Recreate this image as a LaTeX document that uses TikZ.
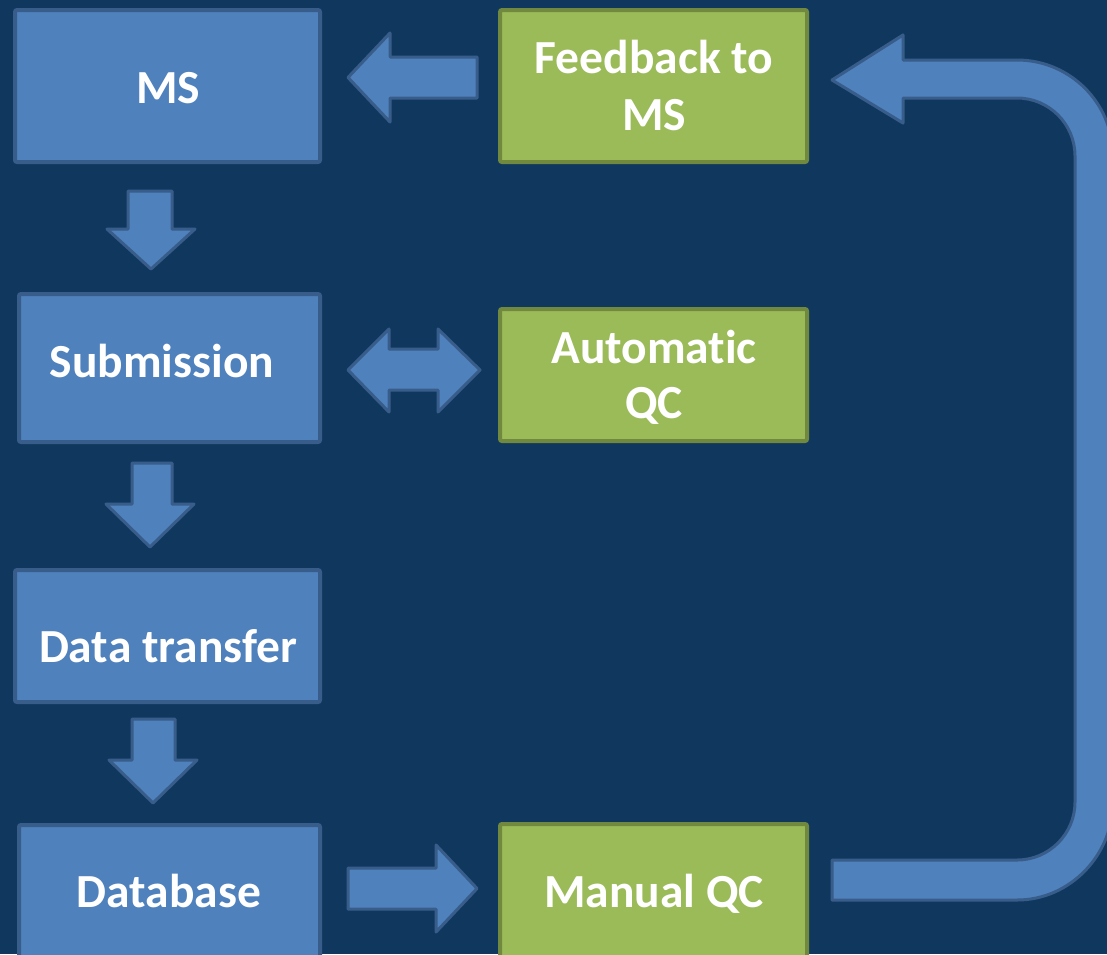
\documentclass[tikz,border=0pt]{standalone}
\usepackage{fontspec}
\setmainfont[Ligatures=NoCommon]{Carlito}
\definecolor{bgc}{HTML}{10385E}
\definecolor{bfill}{HTML}{4F81BD}
\definecolor{bline}{HTML}{385D8A}
\definecolor{gfill}{HTML}{9BBB59}
\definecolor{gline}{HTML}{71893F}
\begin{document}
\begin{tikzpicture}[x=1pt,y=-1pt,
  bluebox/.style={rectangle,fill=bfill,draw=bline,line width=4pt,rounded corners=2pt,inner sep=0pt},
  greenbox/.style={rectangle,fill=gfill,draw=gline,line width=4pt,rounded corners=2pt,inner sep=0pt},
  lbl/.style={text=white,font=\fontsize{47.5}{57}\selectfont\bfseries,inner sep=0pt,anchor=base},
  blockarrow/.style={fill=bfill,draw=bline,line width=3pt,line join=round}]
\useasboundingbox (0,0) rectangle (1107,954);
\clip (0,0) rectangle (1107,954);
\fill[bgc] (0,0) rectangle (1107,954);
% boxes
\node[bluebox,minimum width=305pt,minimum height=152pt] (ms) at (167.5,86) {};
\node[bluebox,minimum width=301pt,minimum height=148pt] (sub) at (169.5,368) {};
\node[bluebox,minimum width=305pt,minimum height=132pt] (dt) at (167.5,636) {};
\node[bluebox,minimum width=301pt,minimum height=146pt] (db) at (169.5,898) {};
\node[greenbox,minimum width=307pt,minimum height=152pt] (fb) at (653.5,86) {};
\node[greenbox,minimum width=307pt,minimum height=132pt] (aq) at (653.5,375) {};
\node[greenbox,minimum width=307pt,minimum height=146pt] (mq) at (653.5,897) {};
% labels
\node[lbl] (msl) at (168,103) {MS};
\node[lbl] (fbl1) at (654,73) {Feedback to};
\node[lbl] (fbl2) at (654,130) {MS};
\node[lbl] (subl) at (162,377) {Submission};
\node[lbl] (aql1) at (654,363) {Automatic};
\node[lbl] (aql2) at (654,418) {QC};
\node[lbl] (dtl) at (168,662) {Data transfer};
\node[lbl] (dbl) at (169,907) {Database};
\node[lbl] (mql) at (654,907) {Manual QC};
% feedback -> MS
\draw[blockarrow] (477,57) -- (390,57) -- (390,33) -- (348,77.5) -- (390,122) -- (390,98) -- (477,98) -- cycle;
% submission <-> automatic QC
\draw[blockarrow] (348,370) -- (389,329) -- (389,349) -- (438,349) -- (438,329) -- (480,370) -- (438,412) -- (438,390) -- (389,390) -- (389,412) -- cycle;
% database -> manual QC
\draw[blockarrow] (348,868) -- (436,868) -- (436,845) -- (477,888.5) -- (436,932) -- (436,909) -- (348,909) -- cycle;
% down arrows
\draw[blockarrow] (128,191) -- (172,191) -- (172,229) -- (195,229) -- (151,269) -- (107,229) -- (128,229) -- cycle;
\draw[blockarrow] (132,463) -- (172,463) -- (172,504) -- (194,504) -- (150,547) -- (106,504) -- (132,504) -- cycle;
\draw[blockarrow] (132,719) -- (175,719) -- (175,760) -- (197,760) -- (153,803) -- (109,760) -- (132,760) -- cycle;
% bent arrow manual QC -> feedback
\draw[blockarrow] (832,860) -- (1017,860) .. controls (1049,860) and (1075,834) .. (1075,802)
  -- (1075,156) .. controls (1075,124) and (1049,98) .. (1017,98)
  -- (903,98) -- (903,123) -- (832,80) -- (903,35) -- (903,60) -- (1017,60)
  .. controls (1070,60) and (1113,103) .. (1113,156) -- (1113,802)
  .. controls (1113,855) and (1070,900) .. (1017,900) -- (832,900) -- cycle;
\end{tikzpicture}
\end{document}
